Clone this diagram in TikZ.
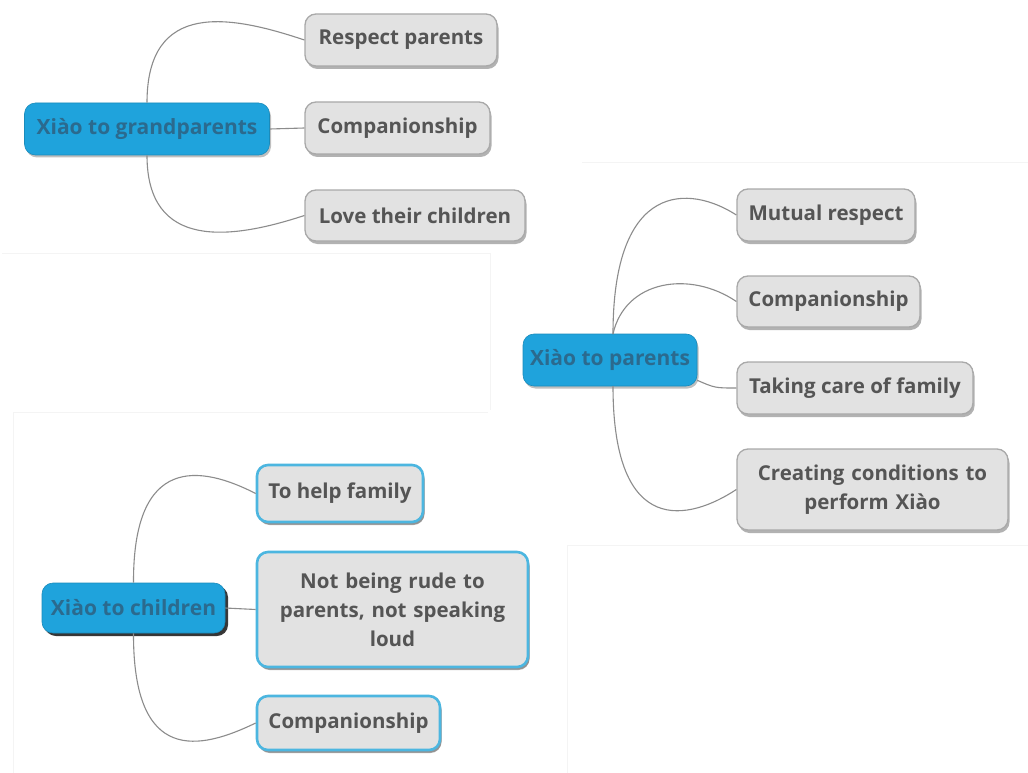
\documentclass[tikz,border=0pt]{standalone}
\usepackage{fontspec}
\setmainfont{Open Sans}
\usetikzlibrary{shadows}
\definecolor{rootblue}{HTML}{1FA3DC}
\definecolor{roottext}{HTML}{2B6A8E}
\definecolor{leaffill}{HTML}{E2E2E2}
\definecolor{leafline}{HTML}{A9A9A9}
\definecolor{leaftext}{HTML}{555555}
\definecolor{kidline}{HTML}{4CB6E0}
\definecolor{connc}{HTML}{8C8C8C}
\definecolor{faint}{HTML}{F4F4F4}
\tikzset{
  rootbox/.style={rectangle, rounded corners=11pt, fill=rootblue, draw=rootblue!85!black, line width=0.6pt,
    text=roottext, font=\bfseries\fontsize{21}{24}\selectfont, inner sep=0pt,
    drop shadow={shadow xshift=1.5pt, shadow yshift=-2.5pt, fill=black!50, opacity=.5}},
  leafbox/.style={rectangle, rounded corners=11pt, fill=leaffill, draw=leafline, line width=1.3pt,
    text=leaftext, font=\bfseries\fontsize{20.5}{29}\selectfont, inner sep=0pt, align=center,
    drop shadow={shadow xshift=1.5pt, shadow yshift=-3pt, fill=black!55, opacity=.55}},
  kidbox/.style={leafbox, draw=kidline, line width=2.6pt,
    drop shadow={shadow xshift=1.5pt, shadow yshift=-2.5pt, fill=black!55, opacity=.5}},
  conn/.style={draw=connc, line width=1.1pt},
  faintline/.style={draw=faint, line width=0.8pt},
}
\begin{document}
\begin{tikzpicture}[x=1pt,y=-1pt]
\useasboundingbox (0,0) rectangle (1028,773);
\fill[white] (0,0) rectangle (1028,773);
% faint frame lines
\draw[faintline] (2,253) -- (490,253) -- (490,410);
\draw[faintline] (13,412) -- (488,412);
\draw[faintline] (13,412) -- (13,773);
\draw[faintline] (582,162) -- (1028,162);
\draw[faintline] (567,545) -- (1028,545);
\draw[faintline] (567,545) -- (567,773);

% ---- Group 1
\node[rootbox, minimum width=245pt, minimum height=52pt] (g) at (147,129) {Xiào to grandparents};
\node[leafbox, minimum width=192pt, minimum height=52pt] (g1) at (401,40) {Respect parents};
\node[leafbox, minimum width=185pt, minimum height=52pt] (g2) at (397.5,128) {Companionship};
\node[leafbox, minimum width=220pt, minimum height=51pt] (g3) at (415,215.5) {Love their children};
\draw[conn] (g.north) .. controls (147,0) and (230,15) .. (g1.west);
\draw[conn] (g.east) -- (g2.west);
\draw[conn] (g.south) .. controls (147,250) and (230,240) .. (g3.west);

% ---- Group 2
\node[rootbox, minimum width=174pt, minimum height=52pt] (p) at (610,360) {Xiào to parents};
\node[leafbox, minimum width=178pt, minimum height=52pt] (p1) at (826,215) {Mutual respect};
\node[leafbox, minimum width=183pt, minimum height=51pt] (p2) at (828.5,301.5) {Companionship};
\node[leafbox, minimum width=236pt, minimum height=52pt] (p3) at (855,388) {Taking care of family};
\node[leafbox, minimum width=271pt, minimum height=81pt, text width=262pt] (p4) at (872.5,489.5) {Creating conditions to\\perform Xiào};
\coordinate (pt) at (613,334);
\coordinate (pb) at (613,386);
\draw[conn] (pt) .. controls (613,180) and (690,185) .. (p1.west);
\draw[conn] (pt) .. controls (625,280) and (690,270) .. (p2.west);
\draw[conn] (p.south east) ++(0,-6) .. controls (715,388) .. (p3.west);
\draw[conn] (pb) .. controls (613,540) and (690,520) .. (p4.west);

% ---- Group 3
\node[rootbox, minimum width=183pt, minimum height=50pt,
  drop shadow={shadow xshift=3pt, shadow yshift=-3pt, fill=black!85, opacity=.9}] (c) at (133.5,608) {Xiào to children};
\node[kidbox, minimum width=166pt, minimum height=57pt] (c1) at (340,493.5) {To help family};
\node[kidbox, minimum width=271pt, minimum height=115pt, text width=262pt] (c2) at (392.5,609.5) {Not being rude to\\parents, not speaking\\loud};
\node[kidbox, minimum width=183pt, minimum height=54pt] (c3) at (348.5,723) {Companionship};
\draw[conn] (c.north) .. controls (133,455) and (200,465) .. (c1.west);
\draw[conn] (c.east) -- (c2.west);
\draw[conn] (c.south) .. controls (133,765) and (200,750) .. (c3.west);
\end{tikzpicture}
\end{document}
